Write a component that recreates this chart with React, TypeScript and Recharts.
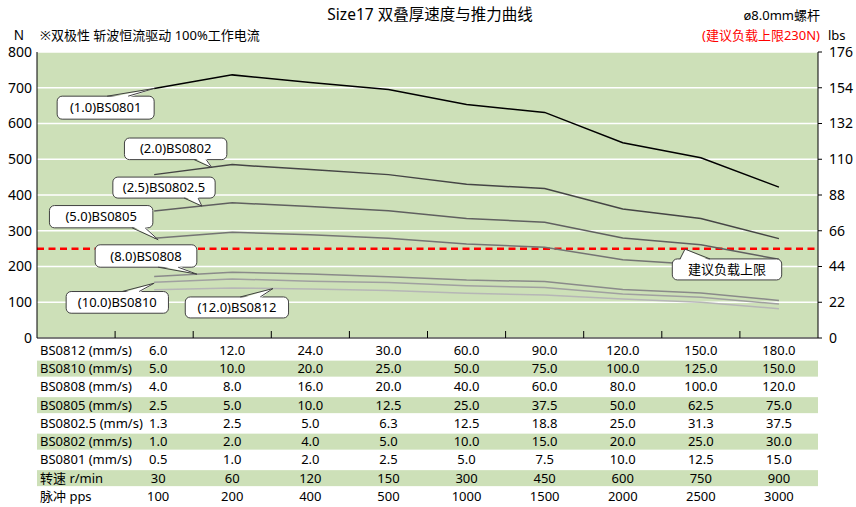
import React from 'react';
import { ComposedChart, Line, XAxis, YAxis, CartesianGrid, ReferenceLine, LabelList } from 'recharts';

// ---------- data ----------
const headerCategory = 'header';
const pulsePps = ['100', '200', '400', '500', '1000', '1500', '2000', '2500', '3000'];
const speedRpm = ['30', '60', '120', '150', '300', '450', '600', '750', '900'];
const bs0812Speed = ['6.0', '12.0', '24.0', '30.0', '60.0', '90.0', '120.0', '150.0', '180.0'];
const bs0810Speed = ['5.0', '10.0', '20.0', '25.0', '50.0', '75.0', '100.0', '125.0', '150.0'];
const bs0808Speed = ['4.0', '8.0', '16.0', '20.0', '40.0', '60.0', '80.0', '100.0', '120.0'];
const bs0805Speed = ['2.5', '5.0', '10.0', '12.5', '25.0', '37.5', '50.0', '62.5', '75.0'];
const bs08025Speed = ['1.3', '2.5', '5.0', '6.3', '12.5', '18.8', '25.0', '31.3', '37.5'];
const bs0802Speed = ['1.0', '2.0', '4.0', '5.0', '10.0', '15.0', '20.0', '25.0', '30.0'];
const bs0801Speed = ['0.5', '1.0', '2.0', '2.5', '5.0', '7.5', '10.0', '12.5', '15.0'];

const bs0801Thrust = [698, 736, 715, 695, 653, 631, 546, 504, 422];
const bs0802Thrust = [457, 485, 471, 457, 430, 418, 361, 334, 278];
const bs08025Thrust = [355, 378, 368, 356, 334, 324, 280, 261, 220];
const bs0805Thrust = [279, 296, 289, 279, 263, 254, 219, 205, 193];
const bs0808Thrust = [172, 184, 179, 171, 162, 158, 136, 126, 105];
const bs0810Thrust = [156, 165, 159, 155, 146, 141, 123, 114, 95];
const bs0812Thrust = [135, 140, 137, 133, 125, 120, 109, 100, 82];

const leftTicks = [0, 100, 200, 300, 400, 500, 600, 700, 800];
const rightTicks = [0, 22, 44, 66, 88, 110, 132, 154, 176];
const loadLimit = 250;

const categories = [headerCategory, ...pulsePps];

const tableRows = [
  { label: 'BS0812 (mm/s)', values: bs0812Speed },
  { label: 'BS0810 (mm/s)', values: bs0810Speed },
  { label: 'BS0808 (mm/s)', values: bs0808Speed },
  { label: 'BS0805 (mm/s)', values: bs0805Speed },
  { label: 'BS0802.5 (mm/s)', values: bs08025Speed },
  { label: 'BS0802 (mm/s)', values: bs0802Speed },
  { label: 'BS0801 (mm/s)', values: bs0801Speed },
  { label: '转速 r/min', values: speedRpm },
  { label: '脉冲 pps', values: pulsePps },
];

const seriesList = [
  { key: 'bs0801', name: '(1.0)BS0801', values: bs0801Thrust },
  { key: 'bs0802', name: '(2.0)BS0802', values: bs0802Thrust },
  { key: 'bs08025', name: '(2.5)BS0802.5', values: bs08025Thrust },
  { key: 'bs0805', name: '(5.0)BS0805', values: bs0805Thrust },
  { key: 'bs0808', name: '(8.0)BS0808', values: bs0808Thrust },
  { key: 'bs0810', name: '(10.0)BS0810', values: bs0810Thrust },
  { key: 'bs0812', name: '(12.0)BS0812', values: bs0812Thrust },
];

const chartData = categories.map((cat, i) => {
  const row: any = { cat };
  seriesList.forEach((s) => {
    row[s.key] = i === 0 ? null : s.values[i - 1];
  });
  return row;
});

// ---------- styles / layout ----------
const FONT = "'Noto Sans', 'Noto Sans CJK SC', sans-serif";
const PLOT_GREEN = '#cde0b8';
const BORDER = '#404040';

const seriesStyle: Record<string, { color: string; width: number }> = {
  bs0801: { color: '#000000', width: 1.5 },
  bs0802: { color: '#454545', width: 1.5 },
  bs08025: { color: '#606060', width: 1.5 },
  bs0805: { color: '#747474', width: 1.5 },
  bs0808: { color: '#8a8a8a', width: 1.5 },
  bs0810: { color: '#a0a0a0', width: 1.5 },
  bs0812: { color: '#b6b6b6', width: 1.5 },
};

// callout geometry relative to the anchor data point
const calloutLayout: Record<string, { index: number; box: number[]; baseY: number; base: number[]; tip: number[] }> = {
  bs0801: { index: 1, box: [-97, 7.7, 97, 23], baseY: 7.7, base: [-47, -26], tip: [0, 0] },
  bs0802: { index: 1, box: [-29.7, -36.6, 102.4, 21.6], baseY: -15, base: [40, 52], tip: [57.7, -7] },
  bs08025: { index: 1, box: [-41.3, -34, 102.3, 21], baseY: -13, base: [30, 44], tip: [47.7, -5] },
  bs0805: { index: 1, box: [-104.7, -32.7, 103.4, 22.3], baseY: -10.4, base: [-22, -9], tip: [4, 1.5] },
  bs0808: { index: 1, box: [-59, -31.7, 101.7, 22.4], baseY: -9.3, base: [4, 24], tip: [42.7, -2.4] },
  bs0810: { index: 1, box: [-88, 9.3, 102.3, 21.7], baseY: 9.3, base: [-32, -15], tip: [0, 1] },
  bs0812: { index: 2, box: [-47, 9, 103.3, 21], baseY: 9, base: [8, 28], tip: [40.7, 0.6] },
};

function Callout({ ax, ay, layout, text }: any) {
  const [bx, by, bw, bh] = layout.box;
  const x = ax + bx;
  const y = ay + by;
  const baseY = ay + layout.baseY;
  const inward = layout.baseY > layout.tip[1] ? 1.5 : -1.5;
  const b1 = ax + layout.base[0];
  const b2 = ax + layout.base[1];
  const tx = ax + layout.tip[0];
  const ty = ay + layout.tip[1];
  return (
    <g>
      <rect x={x} y={y} width={bw} height={bh} rx={5} ry={5} fill="#ffffff" stroke={BORDER} strokeWidth={1} />
      <polygon points={`${b1},${baseY + inward} ${tx},${ty} ${b2},${baseY + inward}`} fill="#ffffff" stroke="none" />
      <polyline points={`${b1},${baseY} ${tx},${ty} ${b2},${baseY}`} fill="none" stroke={BORDER} strokeWidth={1} />
      <text x={x + bw / 2} y={y + bh / 2} dy="0.35em" textAnchor="middle" fontSize={13} fontFamily={FONT} fill="#000">
        {text}
      </text>
    </g>
  );
}

const ROW_H = 18.25;
const FIRST_ROW = 12.4;

function TableTick(props: any) {
  const { x, y, payload, index } = props;
  const half = payload && typeof payload.offset === 'number' && payload.offset > 0 ? payload.offset : 39.05;
  if (index === 0) {
    const left = x - half;
    const width = half * 2 * categories.length;
    return (
      <g>
        {tableRows.map((r, i) =>
          i % 2 === 1 ? (
            <rect key={'s' + i} x={left} y={y + FIRST_ROW + i * ROW_H - 8} width={width} height={16} fill={PLOT_GREEN} />
          ) : null
        )}
        {tableRows.map((r, i) => (
          <text key={'l' + i} x={left + 3} y={y + FIRST_ROW + i * ROW_H} dy="0.35em" textAnchor="start" fontSize={13} fontFamily={FONT} fill="#000">
            {r.label}
          </text>
        ))}
      </g>
    );
  }
  const shift = index === 1 ? 4 : 0;
  return (
    <g>
      <line x1={x - half} x2={x - half} y1={y - 7} y2={y} stroke="#000" strokeWidth={1} />
      {tableRows.map((r, i) => (
        <text key={'v' + i} x={x + shift} y={y + FIRST_ROW + i * ROW_H} dy="0.35em" textAnchor="middle" fontSize={13} fontFamily={FONT} fill="#000">
          {r.values[index - 1]}
        </text>
      ))}
    </g>
  );
}

function LimitCallout(props: any) {
  const vb = props.viewBox || {};
  const right = (vb.x || 0) + (vb.width || 0);
  const ly = vb.y || 0;
  const x = right - 145.7;
  const y = ly + 10.3;
  const bw = 109.4;
  const bh = 21;
  const b1 = right - 138;
  const b2 = right - 108;
  const tx = right - 133;
  const ty = ly + 0.5;
  return (
    <g>
      <rect x={x} y={y} width={bw} height={bh} rx={5} ry={5} fill="#ffffff" stroke={BORDER} strokeWidth={1} />
      <polygon points={`${b1},${y + 1.5} ${tx},${ty} ${b2},${y + 1.5}`} fill="#ffffff" stroke="none" />
      <polyline points={`${b1},${y} ${tx},${ty} ${b2},${y}`} fill="none" stroke={BORDER} strokeWidth={1} />
      <text x={x + bw / 2} y={y + bh / 2} dy="0.35em" textAnchor="middle" fontSize={13} fontFamily={FONT} fill="#000">
        建议负载上限
      </text>
    </g>
  );
}

export default function App() {
  return (
    <div style={{ position: 'absolute', left: 0, top: 0, width: 856, height: 507, background: '#ffffff', fontFamily: FONT }}>
      <ComposedChart width={856} height={507} data={chartData} margin={{ top: 52, right: 0, bottom: 0, left: 0 }}>
        <CartesianGrid vertical={false} stroke="#ffffff" strokeWidth={1.5} fill={PLOT_GREEN} fillOpacity={1} />
        <XAxis
          dataKey="cat"
          type="category"
          scale="band"
          interval={0}
          height={169}
          tickLine={false}
          tickSize={0}
          tickMargin={0}
          axisLine={{ stroke: '#000', strokeWidth: 1 }}
          tick={<TableTick />}
        />
        <YAxis
          domain={[0, 800]}
          ticks={leftTicks}
          width={37}
          tickLine={false}
          tickSize={0}
          tickMargin={5}
          axisLine={{ stroke: '#000', strokeWidth: 1 }}
          tick={{ fontSize: 14, fill: '#000', fontFamily: FONT }}
          allowDataOverflow
        />
        <YAxis
          yAxisId="right"
          orientation="right"
          domain={[0, 176]}
          ticks={rightTicks}
          width={38}
          tickSize={4}
          tickMargin={7}
          tickLine={{ stroke: '#000' }}
          axisLine={{ stroke: '#000', strokeWidth: 1 }}
          tick={{ fontSize: 14, fill: '#000', fontFamily: FONT, textAnchor: 'start' }}
          allowDataOverflow
        />
        <ReferenceLine y={loadLimit} stroke="#ff0000" strokeWidth={2.5} strokeDasharray="7 4.5" />
        {seriesList.map((s) => {
          const st = seriesStyle[s.key];
          const lay = calloutLayout[s.key];
          return (
            <Line
              key={s.key}
              dataKey={s.key}
              type="linear"
              stroke={st.color}
              strokeWidth={st.width}
              dot={false}
              activeDot={false}
              isAnimationActive={false}
            >
              <LabelList
                dataKey={s.key}
                content={(p: any) =>
                  p.index === lay.index && p.x != null && p.y != null ? (
                    <Callout ax={Number(p.x)} ay={Number(p.y)} layout={lay} text={s.name} />
                  ) : null
                }
              />
            </Line>
          );
        })}
        <ReferenceLine y={loadLimit} stroke="none" strokeOpacity={0} label={<LimitCallout />} />
      </ComposedChart>
      <svg width={856} height={507} style={{ position: 'absolute', left: 0, top: 0, pointerEvents: 'none' }}>
        <text x={430} y={15} dy="0.35em" textAnchor="middle" fontSize={15.5} fontFamily={FONT} fill="#000">
          Size17 双叠厚速度与推力曲线
        </text>
        <text x={19} y={35} dy="0.35em" textAnchor="middle" fontSize={13.5} fontFamily={FONT} fill="#000">
          N
        </text>
        <text x={40} y={35} dy="0.35em" textAnchor="start" fontSize={13} fontFamily={FONT} fill="#000">
          ※双极性 斩波恒流驱动 100%工作电流
        </text>
        <text x={820} y={15} dy="0.35em" textAnchor="end" fontSize={13} fontFamily={FONT} fill="#000">
          ø8.0mm螺杆
        </text>
        <text x={820} y={35} dy="0.35em" textAnchor="end" fontSize={13} fontFamily={FONT} fill="#ff0000">
          (建议负载上限230N)
        </text>
        <text x={828} y={35} dy="0.35em" textAnchor="start" fontSize={13} fontFamily={FONT} fill="#000">
          lbs
        </text>
      </svg>
    </div>
  );
}
